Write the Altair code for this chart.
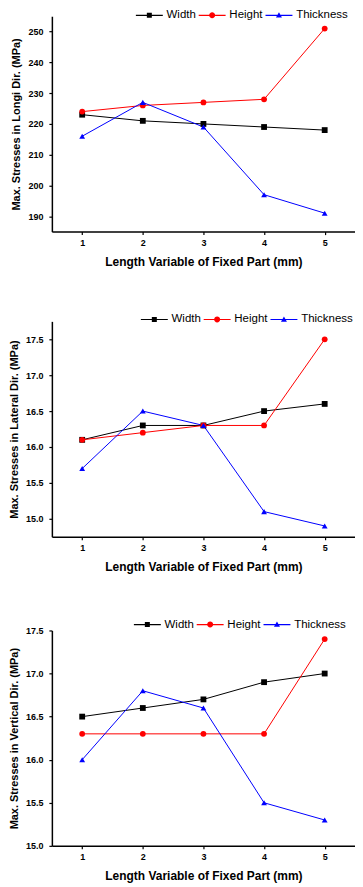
import altair as alt
import pandas as pd

lengths = [1, 2, 3, 4, 5]
series_names = ["Width", "Height", "Thickness"]
series_colors = ["#000000", "#ff0000", "#0000ff"]
point_shapes = ["square", "circle", "triangle-up"]

longi_width = [223, 221, 220, 219, 218]
longi_height = [224, 226, 227, 228, 251]
longi_thickness = [216, 227, 219, 197, 191]

lateral_width = [16.1, 16.3, 16.3, 16.5, 16.6]
lateral_height = [16.1, 16.2, 16.3, 16.3, 17.5]
lateral_thickness = [15.7, 16.5, 16.3, 15.1, 14.9]

vertical_width = [16.5, 16.6, 16.7, 16.9, 17.0]
vertical_height = [16.3, 16.3, 16.3, 16.3, 17.4]
vertical_thickness = [16.0, 16.8, 16.6, 15.5, 15.3]

# legend glyphs: a short line with the marker in its middle (unit = 5 px)
LINE = "M-2.7,-0.11H2.7V0.11H-2.7Z"
legend_paths = [
    LINE + "M-0.5,-0.5H0.5V0.5H-0.5Z",
    LINE + "M-0.6,0A0.6,0.6,0,1,1,0.6,0A0.6,0.6,0,1,1,-0.6,0Z",
    LINE + "M0,-0.62L0.6,0.44L-0.6,0.44Z",
]

FONT = "Liberation Sans"


def panel(w, h, t, ytitle, ydomain, yvalues, yformat, lx, ly):
    rows = []
    for name, vals in zip(series_names, [w, h, t]):
        for xv, yv in zip(lengths, vals):
            rows.append({"length": xv, "stress": yv, "series": name})
    df = pd.DataFrame(rows)
    base = alt.Chart(df)
    x = alt.X(
        "length:Q",
        scale=alt.Scale(domain=[0.5, 5.5], nice=False, zero=False),
        axis=alt.Axis(values=lengths, format="d",
                      title="Length Variable of Fixed Part (mm)",
                      titleFontSize=12, labelPadding=4, titlePadding=9),
    )
    y = alt.Y(
        "stress:Q",
        scale=alt.Scale(domain=ydomain, nice=False, zero=False),
        axis=alt.Axis(values=yvalues, format=yformat, title=ytitle,
                      titleFontSize=11, labelPadding=6, titlePadding=6),
    )
    leg = alt.Legend(
        orient="none",
        legendX=lx,
        legendY=ly,
        direction="horizontal",
        title=None,
        symbolSize=100,
        symbolStrokeWidth=0,
        labelFont=FONT,
        labelFontSize=11.5,
        labelColor="black",
        labelOffset=11.5,
        columnPadding=2,
        padding=0,
    )
    cscale = alt.Scale(domain=series_names, range=series_colors)
    color = alt.Color("series:N", scale=cscale, legend=leg)
    lines = base.mark_line(strokeWidth=1).encode(x=x, y=y, color=color)
    point_layers = []
    for name, shp in zip(series_names, point_shapes):
        point_layers.append(
            base.transform_filter(alt.datum.series == name)
            .mark_point(filled=True, opacity=1, size=34, shape=shp)
            .encode(x=x, y=y, color=color)
        )
    legend_layer = (
        base.transform_filter("datum.length > 100")
        .mark_point(filled=True, opacity=1)
        .encode(
            color=color,
            shape=alt.Shape(
                "series:N",
                scale=alt.Scale(domain=series_names, range=legend_paths),
                legend=leg,
            ),
        )
    )
    return alt.layer(lines, *point_layers, legend_layer).properties(
        width=304, height=216
    )


p1 = panel(longi_width, longi_height, longi_thickness,
           "Max. Stresses in Longi Dir. (MPa)", [185, 255],
           [190, 200, 210, 220, 230, 240, 250], "d", 92, -7)
p2 = panel(lateral_width, lateral_height, lateral_thickness,
           "Max. Stresses in Lateral Dir. (MPa)", [14.75, 17.75],
           [15.0, 15.5, 16.0, 16.5, 17.0, 17.5], ".1f", 97, -8)
p3 = panel(vertical_width, vertical_height, vertical_thickness,
           "Max. Stresses in Vertical Dir. (MPa)", [15.0, 17.5],
           [15.0, 15.5, 16.0, 16.5, 17.0, 17.5], ".1f", 90, -12)

chart = (
    alt.vconcat(p1, p2, p3, spacing=46)
    .resolve_scale(color="independent", shape="independent")
    .properties(padding=0)
    .configure_view(stroke=None)
    .configure_axis(
        grid=False,
        domainColor="black",
        domainWidth=1.5,
        tickColor="black",
        tickWidth=1.2,
        tickSize=3,
        labelFont=FONT,
        labelFontSize=9,
        labelFontWeight="bold",
        labelColor="black",
        titleFont=FONT,
        titleFontWeight="bold",
        titleColor="black",
    )
)

chart.save("out.html", embed_options={"renderer": "svg", "actions": False})
